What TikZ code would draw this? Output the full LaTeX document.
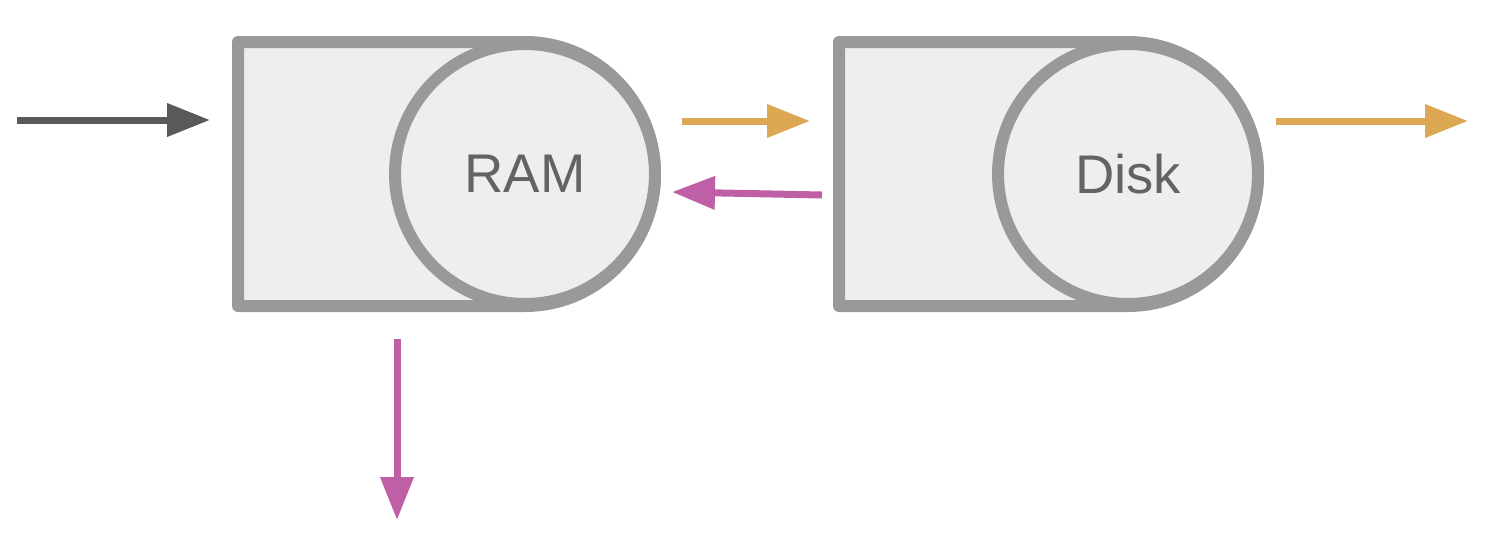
\documentclass[tikz,border=0pt]{standalone}
\usepackage{fontspec}
\setmainfont{Liberation Sans}
\usetikzlibrary{arrows.meta}
\definecolor{boxgray}{HTML}{999999}
\definecolor{boxfill}{HTML}{EEEEEE}
\definecolor{txtgray}{HTML}{636363}
\definecolor{darkarrow}{HTML}{595959}
\definecolor{orangearrow}{HTML}{DDA853}
\definecolor{pinkarrow}{HTML}{BF5FA5}
\begin{document}
\begin{tikzpicture}[x=0.02cm,y=-0.02cm,
  storebox/.style={draw=boxgray,fill=boxfill,line width=0.24cm,line join=round},
  storecircle/.style={circle,draw=boxgray,fill=boxfill,line width=0.24cm,
    minimum size=5.2cm,inner sep=0pt,text=txtgray,font=\fontsize{31}{37}\selectfont},
  flow/.style={line width=0.14cm,-{Triangle[length=0.86cm,width=0.64cm]}},
]
\useasboundingbox (0,0) rectangle (1504,538);
% RAM store
\draw[storebox] (238,42) -- (525,42)
  arc[start angle=-90,end angle=90,x radius=130,y radius=132] -- (238,306) -- cycle;
\node[storecircle] (ram) at (525,174) {RAM};
% Disk store
\draw[storebox] (839,42) -- (1128,42)
  arc[start angle=-90,end angle=90,x radius=130,y radius=132] -- (839,306) -- cycle;
\node[storecircle] (disk) at (1128,174) {Disk};
% connector ends
\coordinate (inS) at (17,120);
\coordinate (inE) at (210,120);
\coordinate (wS) at (682,121);
\coordinate (wE) at (810,121);
\coordinate (rS) at (822,195);
\coordinate (rE) at (672,192);
\coordinate (oS) at (1276,121);
\coordinate (oE) at (1468,121);
\coordinate (dS) at (397,339);
\coordinate (dE) at (397,520);
% connectors
\draw[flow,darkarrow] (inS) -- (inE);
\draw[flow,orangearrow] (wS) -- (wE);
\draw[flow,pinkarrow] (rS) -- (rE);
\draw[flow,orangearrow] (oS) -- (oE);
\draw[flow,pinkarrow] (dS) -- (dE);
\end{tikzpicture}
\end{document}
